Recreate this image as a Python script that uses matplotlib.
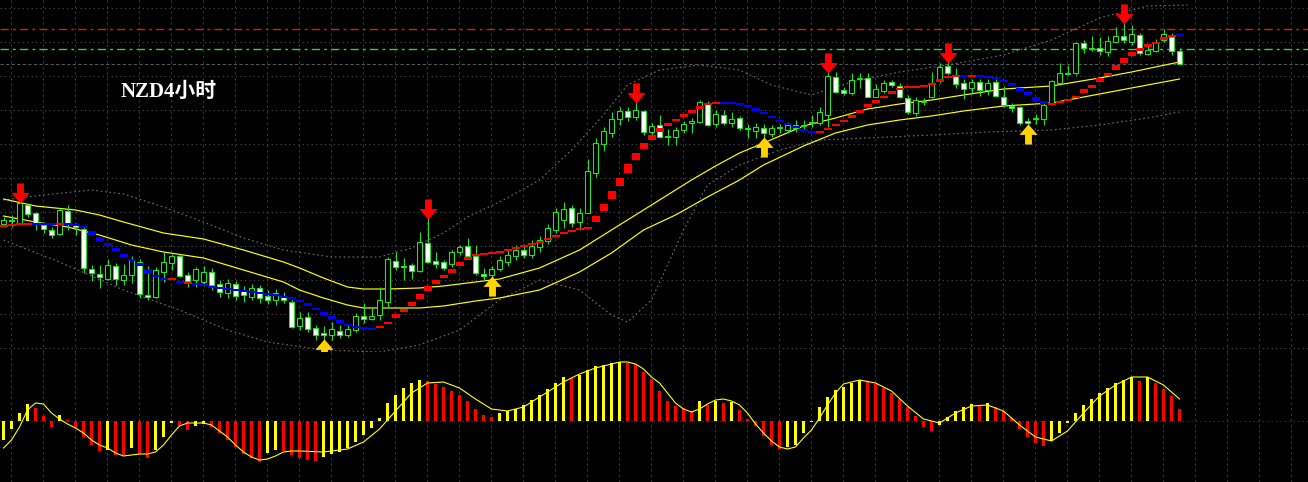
"""
NZD 4-hour chart: candles, step trend, MA envelope, bands and an oscillator panel.
Prices are kept as points above the chart floor (1 point = 1 screen pixel).
"""
import numpy as np
import matplotlib
matplotlib.use("Agg")
import matplotlib.pyplot as plt
from matplotlib.path import Path

# ── candles ────────────────────────────────────────────────────────────────
open_ = [128, 132, 129, 147, 139, 127, 122, 118, 141, 128,
         123, 83, 78, 73, 86, 72, 77, 90, 57, 55,
         80, 89, 96, 77, 72, 70, 80, 68, 59, 68,
         62, 55, 64, 56, 52, 56, 50, 26, 35, 24,
         19, 17, 21, 17, 22, 36, 33, 37, 50, 91,
         86, 87, 81, 109, 91, 90, 88, 100, 106, 96,
         78, 77, 83, 90, 96, 102, 97, 105, 111, 122,
         132, 144, 130, 139, 179, 208, 219, 233, 241, 235,
         241, 220, 227, 216, 215, 222, 229, 230, 249, 228,
         237, 229, 234, 223, 221, 224, 218, 224, 222, 227,
         226, 230, 229, 237, 275, 262, 259, 273, 274, 255,
         261, 270, 266, 254, 239, 250, 255, 272, 286, 277,
         269, 264, 270, 262, 270, 255, 246, 245, 231, 233,
         233, 249, 269, 278, 279, 309, 303, 304, 300, 310,
         316, 310, 317, 298, 301, 312, 315, 301]
high = [135, 137, 150, 149, 140, 130, 125, 144, 147, 129,
        125, 87, 87, 93, 89, 88, 96, 93, 86, 85,
        100, 98, 98, 80, 85, 86, 84, 72, 73, 71,
        66, 68, 67, 62, 63, 60, 52, 40, 40, 27,
        26, 30, 27, 27, 39, 49, 45, 65, 95, 100,
        94, 89, 120, 134, 100, 92, 102, 107, 114, 107,
        84, 86, 96, 102, 107, 108, 112, 116, 128, 144,
        150, 147, 144, 193, 214, 225, 240, 245, 245, 250,
        242, 229, 237, 223, 225, 231, 234, 252, 251, 242,
        242, 240, 236, 228, 229, 228, 227, 228, 230, 232,
        232, 237, 245, 280, 280, 265, 279, 279, 279, 268,
        272, 272, 269, 257, 255, 254, 280, 289, 290, 284,
        273, 273, 273, 273, 273, 266, 249, 246, 234, 238,
        249, 272, 289, 287, 310, 312, 316, 315, 316, 325,
        329, 327, 319, 307, 313, 323, 319, 304]
low = [125, 125, 128, 135, 122, 119, 114, 117, 122, 117,
       79, 71, 64, 72, 67, 67, 69, 54, 52, 54,
       70, 82, 75, 65, 65, 66, 62, 55, 54, 52,
       50, 52, 49, 48, 47, 49, 24, 22, 20, 12,
       12, 12, 14, 15, 20, 29, 32, 32, 45, 82,
       72, 73, 80, 89, 84, 82, 85, 97, 95, 77,
       72, 75, 81, 86, 92, 94, 94, 100, 108, 119,
       124, 125, 122, 139, 175, 201, 215, 227, 231, 232,
       217, 216, 214, 207, 207, 219, 219, 229, 226, 225,
       227, 225, 222, 214, 214, 214, 215, 219, 219, 220,
       222, 225, 227, 225, 259, 257, 257, 264, 255, 255,
       259, 265, 254, 238, 236, 247, 254, 269, 277, 264,
       253, 259, 256, 257, 255, 245, 240, 227, 227, 228,
       227, 247, 267, 277, 277, 299, 301, 297, 296, 310,
       309, 307, 297, 297, 300, 310, 297, 287]
close = [132, 131, 149, 138, 129, 123, 117, 142, 129, 125,
         84, 79, 75, 87, 73, 77, 92, 58, 55, 82,
         90, 96, 76, 71, 83, 80, 67, 60, 69, 56,
         57, 64, 54, 52, 59, 52, 25, 34, 23, 17,
         17, 23, 17, 23, 36, 33, 36, 52, 93, 85,
         85, 81, 110, 90, 88, 84, 100, 105, 96, 79,
         76, 83, 92, 97, 102, 97, 106, 112, 124, 140,
         143, 129, 139, 181, 209, 221, 233, 241, 235, 242,
         220, 226, 215, 215, 222, 228, 231, 250, 227, 238,
         229, 233, 224, 223, 225, 219, 224, 224, 227, 224,
         226, 229, 240, 276, 260, 259, 272, 273, 255, 263,
         269, 267, 255, 240, 252, 250, 269, 285, 279, 268,
         263, 270, 262, 269, 256, 247, 244, 229, 229, 233,
         247, 271, 279, 278, 309, 304, 303, 301, 311, 316,
         312, 318, 299, 302, 309, 318, 301, 288]

# ── step trend line (centre level per bar, R = rising, B = falling) ───────
trend = [126, 127, 128, 128, 128.5, 128.5, 128.5, 128, 128, 127,
         125, 119, 113, 107.5, 102.5, 96.5, 92, 87.5, 80.5, 76,
         73.5, 73, 70.5, 69, 68, 67, 65.5, 64, 63, 62,
         61, 60, 59, 58, 57, 55.5, 54.5, 51, 47.5, 43,
         38.5, 34.5, 30.5, 27, 25, 24, 23.5, 25, 29, 36,
         41.5, 48, 55.5, 63.5, 70, 75.5, 81, 88, 93.5, 97,
         98.5, 99.5, 100, 102, 104, 106, 108, 110, 113, 116,
         119, 121, 123, 124, 133, 144.5, 157, 170, 183.5, 195.5,
         206, 214.5, 222, 227.5, 232, 236.5, 240.5, 244.5, 248, 249,
         249.5, 249.5, 248, 246, 242.5, 239, 235, 231, 228, 225.5,
         222.5, 220, 220.5, 223, 227, 231, 236, 241, 246.5, 250.5,
         255, 259.5, 263, 265, 265.5, 266, 268, 271.5, 275, 276.5,
         276.5, 276.5, 276, 275, 274, 271.5, 267.5, 262.5, 258.5, 253,
         249.5, 248.5, 250, 252, 255, 261, 266, 272, 277.5, 284.5,
         291.5, 298, 302.5, 306.5, 309.5, 313.5, 316, 317]
trend_dir = ("RRRRBBBRBBBBBBBBBBBBBRBR"
             "BBBBBBBBBBBBBBBBBBBBBBB"
             "RRRRRRRRRRRRRRRRRRRRRRRRRRRRRRRRRRRRRRRRRRR"
             "BBBBBBBBBBBB"
             "RRRRRRRRRRRRRRRRRR"
             "BRBBBBBBBBB"
             "RRRRRRRRRRRRRRRRB")

# ── MA envelope (yellow) ───────────────────────────────────────────────────
env_hi_x = [0, 4, 9, 12, 15, 20, 25, 30, 35, 37, 40, 43, 45, 48, 52, 55, 59, 62, 67,
            72, 76, 80, 83, 86, 89, 92, 95, 100, 104, 108, 112, 116, 120, 125, 131,
            137, 141, 147]
env_hi_y = [153, 146, 142, 137, 130, 119, 113, 102, 90, 84, 74, 65, 63, 63, 64, 66, 70,
            73, 84, 102, 122, 142, 157, 172, 186, 199, 209, 226, 234, 243, 248, 252,
            257, 263, 266, 274, 280, 290]
env_lo_x = [0, 4, 8, 12, 16, 20, 25, 30, 35, 37, 40, 43, 45, 52, 55, 59, 62, 67, 72,
            76, 80, 84, 88, 92, 95, 100, 104, 108, 112, 116, 120, 125, 131, 135, 141, 147]
env_lo_y = [136, 130, 125, 117, 107, 100, 94, 82, 70, 62, 54, 47, 44, 44, 46, 51, 54,
            62, 80, 99, 122, 137, 155, 172, 187, 206, 219, 227, 232, 236, 241, 246,
            249, 255, 264, 273]

# ── bands (grey dotted) ────────────────────────────────────────────────────
band_hi_x = [0, 5, 11, 15, 20, 25, 30, 35, 41, 47, 51, 55, 58, 62, 67, 71, 75, 78, 82,
             87, 92, 96, 101, 106, 112, 118, 125, 131, 137, 143, 148]
band_hi_y = [152, 157, 162, 158, 145, 130, 114, 102, 95, 95, 104, 119, 135, 150, 172,
             202, 237, 267, 282, 287, 282, 267, 257, 270, 280, 287, 297, 312, 334, 346, 347]
band_lo_x = [0, 7, 15, 22, 28, 33, 40, 47, 52, 57, 62, 67, 72, 76, 78, 81, 85, 88, 92,
             97, 102, 108, 116, 123, 131, 137, 143, 147]
band_lo_y = [112, 90, 62, 42, 22, 10, 2, 0, 7, 22, 52, 72, 62, 37, 30, 52, 122, 167,
             187, 202, 212, 214, 217, 220, 222, 227, 234, 240]

# ── signals ────────────────────────────────────────────────────────────────
sell_bars = [2, 53, 79, 103, 118, 140]
buy_bars = [40, 61, 95, 128]
level_red = 323
level_green = 303
level_grey = 288

# ── oscillator panel ───────────────────────────────────────────────────────
osc = [-19, -8, 8, 17, 13, 5, -6, 6, 1, -7,
       -16, -24, -30, -29, -34, -35, -27, -33, -37, -29,
       -16, -2, -5, -9, -5, -3, -6, -12, -19, -26,
       -33, -37, -41, -32, -29, -30, -34, -37, -39, -40,
       -36, -33, -31, -27, -21, -14, -7, 3, 18, 26,
       33, 38, 41, 40, 37, 34, 30, 26, 20, 12,
       6, 4, 8, 10, 12, 16, 21, 26, 32, 38,
       44, 43.5, 46, 51, 55, 56, 58, 59, 58.5, 57.5,
       49, 42, 30, 20, 15, 13, 10, 20, 16, 20,
       18, 19, 11, 2, -5, -15, -24, -28, -26, -24,
       -12, -1, 14, 24, 31, 34, 38, 41, 40, 37,
       33, 28, 22, 14, 5, -6, -10, -4, 4, 10,
       14, 17, 16, 18, 14, 10, 3, -8, -16, -22,
       -25, -20, -12, -2, 8, 16, 22, 28, 33, 38,
       41, 44, 40, 44, 38, 32, 25, 12]
sig_x = list(range(0, 38)) + [40, 43, 45, 47, 49, 51, 53, 55, 57, 59, 61, 63, 65, 67] \
    + list(range(69, 106)) + [107, 109, 111, 113, 115, 117, 119, 121, 123, 125,
                              127, 129, 131, 133, 135, 137, 139, 141, 143, 145, 147]
sig_y = [-27, -19, -6, 11, 18, 17, 8, 2, -3, -7, -12, -19, -24, -27, -32, -35, -34,
         -33, -33, -31, -24, -14, -5, -2, -2, -2, -4, -10, -16, -24, -31, -36, -39,
         -38, -35, -31, -30, -30,
         -31, -28, -21, -8, 10, 28, 38, 39, 33, 22, 12, 10, 14, 24,
         34, 39, 43, 47, 50, 53, 55, 57, 59, 59, 57, 52, 44, 38, 28, 18, 12, 9, 12,
         17, 21, 22, 20, 16, 8, -3, -12, -20, -26, -28, -26, -17, -9, 3, 16, 28, 37,
         41, 38, 30, 15, 2, -2, 8, 15, 16, 10, -4, -16, -20, -10, 8, 25, 36, 44,
         44, 36, 22]

# ── colours ────────────────────────────────────────────────────────────────
GREEN = "#22e022"
RED = "#ff0000"
BLUE = "#0000ff"
YELLOW = "#ffff00"
ARROW_YELLOW = "#ffd200"
GRID_V = "#2e3c4a"
GRID_H = "#4c4c4c"
BAND = "#707070"

W, H = 1308, 482
TOP_H = 352
X0, STEP = 3.5, 8.0          # first bar centre and bar spacing in pixels
XLIM = (-X0 / STEP, (W - X0) / STEP)


def arrow_path(down=True):
    v = [(-0.17, 0.5), (0.17, 0.5), (0.17, 0.02), (0.45, 0.02), (0.0, -0.5),
         (-0.45, 0.02), (-0.17, 0.02), (-0.17, 0.5)]
    if not down:
        v = [(x, -y) for x, y in v]
    codes = [Path.MOVETO] + [Path.LINETO] * (len(v) - 2) + [Path.CLOSEPOLY]
    return Path(v, codes)


def style(ax):
    ax.set_facecolor("black")
    for s in ax.spines.values():
        s.set_visible(False)
    ax.tick_params(length=0, labelbottom=False, labelleft=False)
    ax.set_xlim(*XLIM)
    ax.set_xticks(np.arange(0.94, XLIM[1], 4))
    ax.grid(axis="x", color=GRID_V, linestyle=(0, (2, 3)), linewidth=0.8)


fig = plt.figure(figsize=(W / 100, H / 100), dpi=100, facecolor="black")
ax = fig.add_axes([0, (H - TOP_H) / H, 1, TOP_H / H])
axo = fig.add_axes([0, 0, 1, (H - TOP_H) / H])
style(ax)
style(axo)

ax.set_ylim(0, TOP_H)
ax.set_yticks(np.arange(4, TOP_H, 34))
ax.grid(axis="y", color=GRID_H, linestyle=(0, (1, 3)), linewidth=0.8)
ax.set_axisbelow(True)

n = len(close)
idx = np.arange(n)
o, h, l, c = (np.array(a, float) for a in (open_, high, low, close))

# horizontal levels
ax.axhline(level_red, color="#e01818", lw=1, ls=(0, (6, 3, 2, 3)), zorder=1)
ax.axhline(level_green, color="#3ccc3c", lw=1, ls=(0, (6, 3, 2, 3)), zorder=1)
ax.axhline(level_grey, color="#555555", lw=0.8, ls=(0, (3, 2)), zorder=1)

# bands and envelope
ax.plot(band_hi_x, band_hi_y, color=BAND, lw=0.8, ls=(0, (1.5, 2.5)), zorder=1.5)
ax.plot(band_lo_x, band_lo_y, color=BAND, lw=0.8, ls=(0, (1.5, 2.5)), zorder=1.5)
ax.plot(env_hi_x, env_hi_y, color=YELLOW, lw=0.85, zorder=2)
ax.plot(env_lo_x, env_lo_y, color=YELLOW, lw=0.85, zorder=2)

# candles
ax.vlines(idx, l, h, color=GREEN, lw=0.8, zorder=3)
up = c >= o
body_lo = np.minimum(o, c)
body_h = np.maximum(np.abs(c - o), 1.5)
ax.bar(idx, body_h, bottom=body_lo, width=0.65,
       color=np.where(up, "black", "white"), edgecolor=GREEN, linewidth=0.8, zorder=4)

# step trend blocks
tr = np.array(trend, float)
blk_h = np.maximum(2.0, 0.6 * np.abs(np.diff(tr, prepend=tr[0])))
blk_c = [RED if d == "R" else BLUE for d in trend_dir]
ax.bar(idx, blk_h, bottom=tr - blk_h / 2, width=1.0, color=blk_c, linewidth=0, zorder=5)

# signal arrows
ax.scatter(sell_bars, h[sell_bars] + 9, marker=arrow_path(True), s=210,
           color=RED, linewidths=0, zorder=6)
ax.scatter(buy_bars, l[buy_bars] - 9, marker=arrow_path(False), s=210,
           color=ARROW_YELLOW, linewidths=0, zorder=6)

fig.text(121 / W, 1 - 92 / H, "NZD4小时", color="white", fontsize=15, fontweight="bold",
         family=["Liberation Serif", "Noto Sans CJK SC"], va="center")

# oscillator
axo.set_ylim(-61, 69)
axo.set_yticks([])
ov = np.array(osc, float)
rising = np.diff(ov, prepend=ov[0] - 1) >= 0
axo.axhline(0, color="#3a3a3a", lw=0.8, ls=(0, (1, 3)), zorder=1)
axo.bar(idx, ov, width=0.38, color=np.where(rising, YELLOW, RED), linewidth=0, zorder=2)
axo.plot(sig_x, sig_y, color=YELLOW, lw=0.8, zorder=3)

fig.savefig("out.png", dpi=100, facecolor="black")
